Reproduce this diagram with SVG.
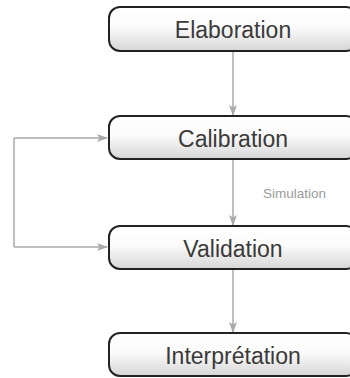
<svg xmlns="http://www.w3.org/2000/svg" width="350" height="378" viewBox="0 0 350 378">
<defs>
<linearGradient id="g" x1="0" y1="0" x2="0" y2="1">
<stop offset="0" stop-color="#ffffff"/>
<stop offset="0.45" stop-color="#fbfbfb"/>
<stop offset="1" stop-color="#d6d6d6"/>
</linearGradient>
<marker id="ah" markerWidth="11" markerHeight="8" refX="10" refY="4" orient="auto" markerUnits="userSpaceOnUse">
<path d="M0,0 L11,4 L0,8 L2.5,4 Z" fill="#aaaaaa"/>
</marker>
<style>
.box{fill:url(#g);stroke:#222;stroke-width:2}
.lbl{font-family:"Liberation Sans",Arial,sans-serif;font-size:23px;fill:#3a3a3a;text-anchor:middle}
.edge{fill:none;stroke:#aaaaaa;stroke-width:1.5;marker-end:url(#ah)}
.plain{fill:none;stroke:#aaaaaa;stroke-width:1.5}
.elbl{font-family:"Liberation Sans",Arial,sans-serif;font-size:13.5px;fill:#9a9a9a}
</style>
</defs>
<g id="connectors">
<line class="edge" x1="233" y1="51" x2="233" y2="115"/>
<line class="edge" x1="233" y1="158" x2="233" y2="225"/>
<line class="edge" x1="233" y1="268" x2="233" y2="332"/>
<line class="plain" x1="14" y1="138" x2="14" y2="247"/>
<line class="edge" x1="14" y1="138" x2="107" y2="138"/>
<line class="edge" x1="14" y1="247" x2="107" y2="247"/>
<text class="elbl" x="263" y="198">Simulation</text>
</g>
<g id="elaboration">
<rect class="box" x="109" y="7" width="248" height="44" rx="11"/>
<text class="lbl" x="233" y="38">Elaboration</text>
</g>
<g id="calibration">
<rect class="box" x="109" y="116" width="248" height="43" rx="11"/>
<text class="lbl" x="233" y="147">Calibration</text>
</g>
<g id="validation">
<rect class="box" x="109" y="226" width="248" height="43" rx="11"/>
<text class="lbl" x="233" y="257">Validation</text>
</g>
<g id="interpretation">
<rect class="box" x="109" y="333" width="248" height="43" rx="11"/>
<text class="lbl" x="233" y="364">Interprétation</text>
</g>
</svg>
